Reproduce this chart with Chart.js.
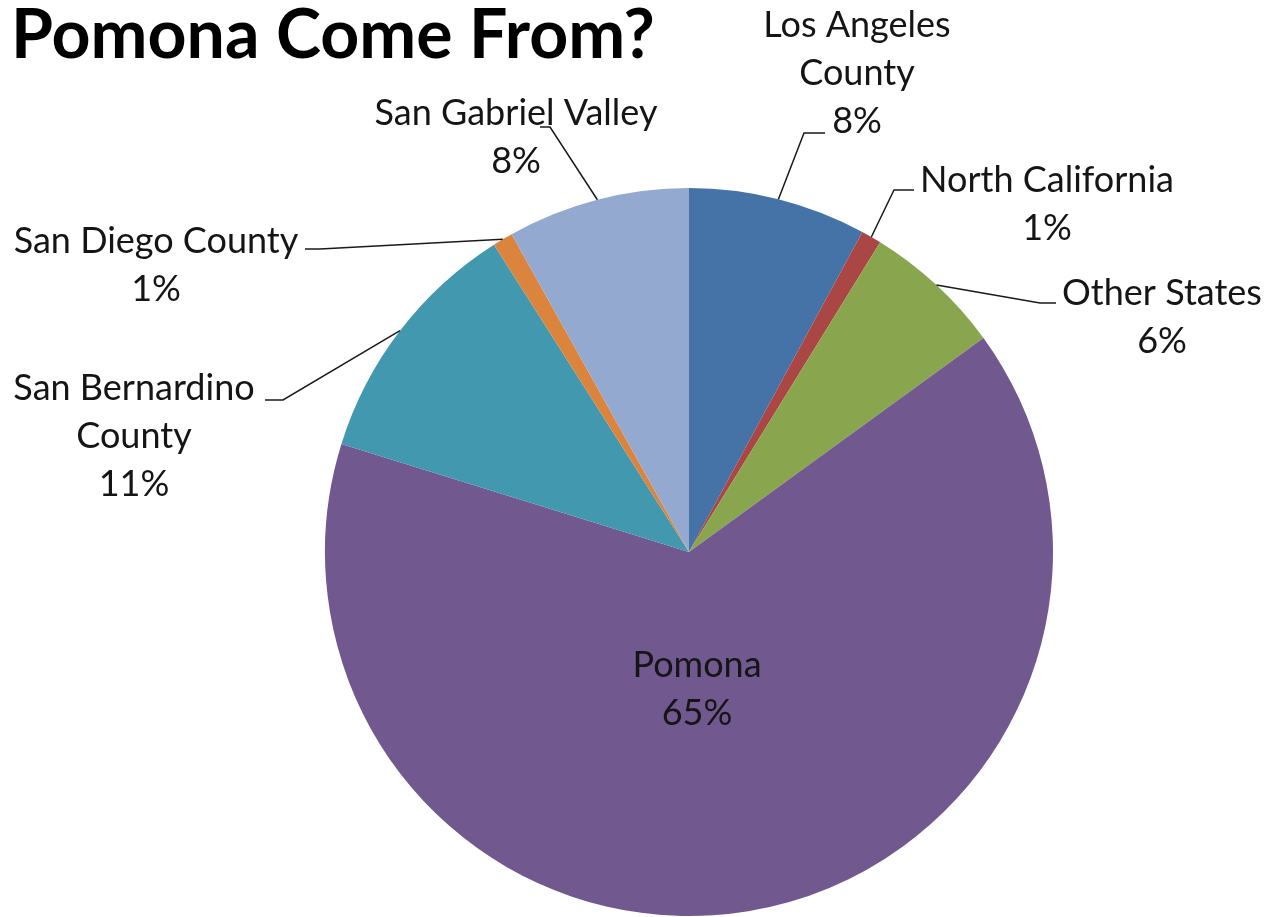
<!DOCTYPE html>
<html>
<head>
<meta charset="utf-8">
<script src="https://cdn.jsdelivr.net/npm/chart.js@4.4.1/dist/chart.umd.min.js"></script>
<style>
  html, body { margin: 0; padding: 0; background: #ffffff; }
  #wrap { width: 1270px; height: 917px; }
</style>
</head>
<body>
<div id="wrap"><canvas id="c" width="1270" height="917"></canvas></div>
<script>
// ---- data ----
const titleText = 'Pomona Come From?';
const categories = ['Los Angeles County', 'North California', 'Other States', 'Pomona', 'San Bernardino County', 'San Diego County', 'San Gabriel Valley'];
const shares = [7.9, 0.9, 6.2, 64.8, 11.2, 0.9, 8.1];
const percentLabels = ['8%', '1%', '6%', '65%', '11%', '1%', '8%'];
const nameLines = [['Los Angeles', 'County'], ['North California'], ['Other States'], ['Pomona'], ['San Bernardino', 'County'], ['San Diego County'], ['San Gabriel Valley']];
const sliceColors = ['#4572A7', '#AA4643', '#89A54E', '#71588F', '#4198AF', '#DB843D', '#93A9CF'];

// ---- label placement (layout only) ----
const labelPlacement = [
  { cx: 857, y0: 25, elbow: [804, 133], end: [825, 133] },
  { cx: 1047, y0: 180, elbow: [894, 190], end: [914, 190] },
  { cx: 1162, y0: 293, elbow: [1040, 303], end: [1056, 303] },
  { cx: 697, y0: 665, elbow: null, end: null },
  { cx: 134, y0: 388, elbow: [283, 400], end: [265, 400] },
  { cx: 156, y0: 241, elbow: [320, 249], end: [305, 249] },
  { cx: 516, y0: 113, elbow: [550, 127], end: [540, 127] }
];
const labelFont = '36px Lato, "Open Sans", sans-serif';
const lineGap = 48;

const labelPlugin = {
  id: 'excelLabels',
  afterDatasetsDraw(chart) {
    const ctx = chart.ctx;
    const meta = chart.getDatasetMeta(0);
    ctx.save();
    // title
    ctx.fillStyle = '#000000';
    ctx.font = 'bold 68px Lato, "Open Sans", sans-serif';
    ctx.textAlign = 'left';
    ctx.textBaseline = 'alphabetic';
    ctx.fillText(titleText, 11, 58);
    // labels
    ctx.font = labelFont;
    ctx.textAlign = 'center';
    ctx.textBaseline = 'middle';
    meta.data.forEach((arc, i) => {
      const p = labelPlacement[i];
      const lines = nameLines[i].concat([percentLabels[i]]);
      ctx.fillStyle = '#151515';
      lines.forEach((t, k) => ctx.fillText(t, p.cx, p.y0 + k * lineGap));
      if (p.elbow) {
        const props = arc.getProps(['x', 'y', 'startAngle', 'endAngle', 'outerRadius'], true);
        const mid = (props.startAngle + props.endAngle) / 2;
        const sx = props.x + Math.cos(mid) * props.outerRadius;
        const sy = props.y + Math.sin(mid) * props.outerRadius;
        ctx.strokeStyle = '#1a1a1a';
        ctx.lineWidth = 1.5;
        ctx.beginPath();
        ctx.moveTo(sx, sy);
        ctx.lineTo(p.elbow[0], p.elbow[1]);
        ctx.lineTo(p.end[0], p.end[1]);
        ctx.stroke();
      }
    });
    ctx.restore();
  }
};

new Chart(document.getElementById('c'), {
  type: 'pie',
  data: {
    labels: categories,
    datasets: [{
      data: shares,
      backgroundColor: sliceColors,
      borderWidth: 0
    }]
  },
  options: {
    responsive: false,
    animation: false,
    layout: { padding: { left: 108, right: 0, top: 188, bottom: 1 } },
    plugins: {
      legend: { display: false },
      title: { display: false },
      tooltip: { enabled: false }
    }
  },
  plugins: [labelPlugin]
});
</script>
</body>
</html>
